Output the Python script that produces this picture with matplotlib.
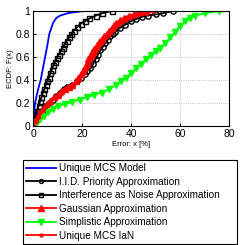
import numpy as np
import matplotlib
matplotlib.use('Agg')
import matplotlib.pyplot as plt

plt.rcParams['font.family'] = ['Liberation Sans', 'DejaVu Sans']

# series
mcs_x = [0, 0.3, 0.8, 1.5, 2.3, 3.1, 4.0, 4.9, 5.8, 6.6, 7.4, 8.2, 9.5, 11, 14, 17, 20.5]
mcs_y = [0, 0.08, 0.2, 0.27, 0.34, 0.4, 0.5, 0.6, 0.7, 0.8, 0.85, 0.9, 0.94, 0.96, 0.98, 0.99, 1.0]

iid_x = [0, 1, 2, 3, 4, 5, 6.5, 8, 9.5, 11, 12.5, 14, 16, 18, 19.5, 21, 22, 23.4, 24.5, 25.5,
         26.5, 27.5, 28.5, 29.5, 30.5, 31.5, 32.5, 33.5, 35.3, 37.5, 39.8, 42, 44.5, 46.7, 50, 53, 57]
iid_y = [0, 0.04, 0.08, 0.11, 0.14, 0.17, 0.2, 0.23, 0.26, 0.29, 0.32, 0.34, 0.36, 0.39, 0.42, 0.45,
         0.48, 0.5, 0.54, 0.58, 0.62, 0.66, 0.69, 0.72, 0.75, 0.78, 0.8, 0.82, 0.85, 0.88, 0.91, 0.93,
         0.95, 0.96, 0.97, 0.98, 1.0]

ian_x = [0, 0.5, 1, 1.6, 2.2, 2.8, 3.4, 4.0, 4.6, 5.2, 5.8, 6.4, 7.0, 7.6, 8.3, 9.0, 9.7, 10.4,
         11.2, 12.0, 12.8, 13.7, 14.6, 15.6, 16.7, 18, 19.5, 21, 23, 25.5, 28, 32]
ian_y = [0, 0.04, 0.08, 0.13, 0.17, 0.21, 0.25, 0.29, 0.32, 0.36, 0.39, 0.42, 0.46, 0.49, 0.53,
         0.56, 0.59, 0.62, 0.65, 0.68, 0.71, 0.74, 0.77, 0.8, 0.83, 0.86, 0.89, 0.91, 0.935, 0.96,
         0.98, 1.0]

gauss_x = [0, 0.5, 1.5, 2.5, 3.5, 4.5, 5.5, 7, 8.5, 10, 11.5, 13, 14.5, 16, 17.5, 18.5, 19.5, 20.3,
           21, 21.8, 22.6, 23.4, 24.2, 25, 26, 27, 28, 29, 30, 31, 32, 33, 34, 35.5, 37, 39, 41,
           43.5, 46]
gauss_y = [0, 0.03, 0.07, 0.1, 0.13, 0.16, 0.19, 0.22, 0.25, 0.27, 0.3, 0.32, 0.34, 0.36, 0.39,
           0.42, 0.45, 0.48, 0.51, 0.54, 0.58, 0.61, 0.64, 0.67, 0.7, 0.73, 0.76, 0.78, 0.8, 0.83,
           0.85, 0.88, 0.9, 0.92, 0.94, 0.96, 0.97, 0.99, 1.0]

simp_x = [0, 1.5, 3, 4.5, 6, 8, 10, 13, 16, 19, 22, 25, 28, 31, 34, 36, 38, 40, 42, 44, 46, 48,
          50, 52, 54, 56, 58, 60, 62, 64, 66, 70, 76]
simp_y = [0, 0.03, 0.06, 0.09, 0.12, 0.15, 0.17, 0.19, 0.21, 0.23, 0.25, 0.27, 0.29, 0.32, 0.36,
          0.39, 0.42, 0.46, 0.5, 0.54, 0.58, 0.62, 0.65, 0.68, 0.72, 0.77, 0.82, 0.87, 0.91, 0.94,
          0.96, 0.98, 1.0]

umi_x = [0, 1, 2, 3, 4, 5.5, 7, 8.5, 10, 11.5, 13, 14.5, 16, 17.5, 18.8, 19.8, 20.7, 21.5, 22.3,
         23.1, 23.9, 24.7, 25.6, 26.6, 27.6, 28.6, 29.6, 30.6, 31.6, 32.6, 33.8, 35, 36.5, 38.5,
         40.5, 43, 46, 49]
umi_y = [0, 0.04, 0.08, 0.12, 0.15, 0.18, 0.21, 0.24, 0.26, 0.29, 0.31, 0.33, 0.35, 0.38, 0.41,
         0.44, 0.47, 0.5, 0.53, 0.57, 0.6, 0.63, 0.66, 0.69, 0.72, 0.75, 0.78, 0.8, 0.83, 0.85,
         0.88, 0.9, 0.92, 0.94, 0.96, 0.97, 0.985, 1.0]

fig = plt.figure(figsize=(2.49, 2.45), dpi=100)
ax = fig.add_axes([0.133, 0.486, 0.787, 0.469])

ax.plot(mcs_x, mcs_y, color='blue', lw=1.3, label='Unique MCS Model')
ax.plot(iid_x, iid_y, color='black', lw=1.3, marker='o', ms=3.8, mfc='none', mew=1.0,
        label='I.I.D. Priority Approximation')
ax.plot(ian_x, ian_y, color='black', lw=1.3, marker='s', ms=3.6, mfc='none', mew=1.0,
        label='Interference as Noise Approximation')
ax.plot(gauss_x, gauss_y, color='red', lw=1.3, marker='^', ms=5,
        label='Gaussian Approximation')
ax.plot(simp_x, simp_y, color='#00ff00', lw=1.3, marker='v', ms=5,
        label='Simplistic Approximation')
ax.plot(umi_x, umi_y, color='red', lw=1.3, marker='.', ms=5.5,
        label='Unique MCS IaN')

ax.set_xlim(0, 80)
ax.set_ylim(0, 1)
ax.set_xticks([0, 20, 40, 60, 80])
ax.set_yticks([0, 0.2, 0.4, 0.6, 0.8, 1])
ax.set_yticklabels(['0', '0.2', '0.4', '0.6', '0.8', '1'])
ax.tick_params(labelsize=7.5, direction='in', length=2, pad=2)
ax.grid(True, linestyle=':', color='#b0b0b0', lw=0.6)
ax.set_xlabel('Error: x [%]', fontsize=5.5, labelpad=2)
ax.set_ylabel('ECDF: F(x)', fontsize=5.5, labelpad=1)
for s in ax.spines.values():
    s.set_linewidth(0.8)

leg = fig.legend(loc='center', bbox_to_anchor=(0.072, 0.004, 0.9, 0.343), mode='expand',
                 fontsize=7.2, handlelength=3.0, handletextpad=0.3, labelspacing=0.35,
                 borderpad=0.3, numpoints=1, markerscale=0.75, fancybox=False, framealpha=1)
leg.get_frame().set_edgecolor('black')
leg.get_frame().set_linewidth(0.8)

fig.savefig('out.png', dpi=100)
